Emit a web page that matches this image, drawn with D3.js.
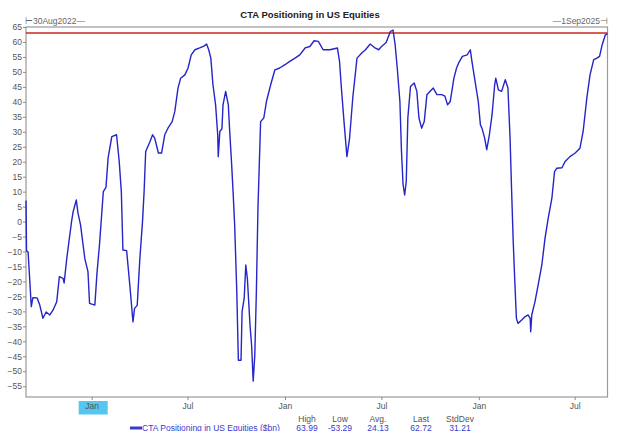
<!DOCTYPE html>
<html>
<head>
<meta charset="utf-8">
<script src="https://cdn.jsdelivr.net/npm/d3@7"></script>
<style>
  body { margin: 0; background: #fff; }
  svg { display: block; font-family: "Liberation Sans", Arial, sans-serif; }
</style>
</head>
<body>
<div id="chart"></div>
<script>
// data
var dates = [
  "2022-08-30","2022-08-31","2022-09-03","2022-09-09","2022-09-12","2022-09-20","2022-09-25","2022-10-01","2022-10-07","2022-10-14",
  "2022-10-20","2022-10-27","2022-11-01","2022-11-08","2022-11-10","2022-11-15","2022-11-24","2022-11-27","2022-12-03","2022-12-06",
  "2022-12-11","2022-12-19","2022-12-25","2022-12-28","2023-01-07","2023-01-11","2023-01-16","2023-01-23","2023-01-28","2023-02-01",
  "2023-02-08","2023-02-17","2023-02-22","2023-02-26","2023-03-01","2023-03-08","2023-03-14","2023-03-20","2023-03-23","2023-03-28",
  "2023-04-02","2023-04-07","2023-04-10","2023-04-13","2023-04-21","2023-04-26","2023-04-30","2023-05-07","2023-05-13","2023-05-19",
  "2023-05-25","2023-06-02","2023-06-07","2023-06-13","2023-06-18","2023-06-26","2023-07-02","2023-07-08","2023-07-15","2023-07-24",
  "2023-08-01","2023-08-06","2023-08-10","2023-08-14","2023-08-18","2023-08-23","2023-08-27","2023-08-28","2023-08-31","2023-09-04",
  "2023-09-06","2023-09-11","2023-09-16","2023-09-19","2023-09-22","2023-09-25","2023-09-28","2023-10-02","2023-10-05","2023-10-10",
  "2023-10-12","2023-10-16","2023-10-19","2023-10-22","2023-10-27","2023-10-30","2023-11-02","2023-11-05","2023-11-08","2023-11-11",
  "2023-11-16","2023-11-22","2023-11-27","2023-12-05","2023-12-13","2023-12-22","2024-01-01","2024-01-10","2024-01-20","2024-01-29",
  "2024-02-08","2024-02-17","2024-02-25","2024-03-04","2024-03-13","2024-03-26","2024-04-09","2024-04-13","2024-04-17","2024-04-22",
  "2024-04-27","2024-05-02","2024-05-08","2024-05-16","2024-05-25","2024-06-01","2024-06-10","2024-06-19","2024-06-26","2024-07-02",
  "2024-07-10","2024-07-18","2024-07-23","2024-07-27","2024-07-31","2024-08-05","2024-08-08","2024-08-11","2024-08-14","2024-08-17",
  "2024-08-20","2024-08-25","2024-09-01","2024-09-06","2024-09-10","2024-09-15","2024-09-20","2024-09-25","2024-10-01","2024-10-07",
  "2024-10-14","2024-10-23","2024-10-29","2024-11-03","2024-11-08","2024-11-15","2024-11-20","2024-11-24","2024-12-01","2024-12-10",
  "2024-12-16","2024-12-19","2024-12-26","2024-12-31","2025-01-04","2025-01-07","2025-01-12","2025-01-16","2025-01-21","2025-01-26",
  "2025-01-31","2025-02-02","2025-02-07","2025-02-13","2025-02-20","2025-02-25","2025-03-01","2025-03-04","2025-03-07","2025-03-10",
  "2025-03-13","2025-03-16","2025-03-23","2025-03-29","2025-04-04","2025-04-08","2025-04-09","2025-04-11","2025-04-17","2025-04-23",
  "2025-04-30","2025-05-06","2025-05-12","2025-05-19","2025-05-24","2025-05-28","2025-06-07","2025-06-13","2025-06-22","2025-07-02",
  "2025-07-11","2025-07-17","2025-07-24","2025-07-30","2025-08-06","2025-08-12","2025-08-17","2025-08-22","2025-08-28","2025-09-01"
];
var values = [
  7, -9.8, -10.2, -28.4, -25.4, -25.5, -27.9, -32.3, -30.2, -31.2,
  -29.6, -26.8, -18.4, -19, -20.5, -12.3, 0, 3.3, 7.2, 3,
  -1.1, -12.3, -16.7, -27.3, -27.9, -17.3, -7.2, 10, 11.4, 21.2,
  28.4, 29, 20.1, 10, -9.5, -9.7, -21.2, -33.5, -29, -28,
  -12.3, 0, 10, 23.4, 26.7, 29, 27.9, 22.9, 22.9, 29,
  31.2, 33.4, 36.8, 44.6, 47.9, 49, 51.3, 55.7, 57.4, 58,
  58.6, 59.3, 57.4, 54.6, 45.7, 39, 29, 21.7, 30.1, 31,
  39, 43.5, 39, 29, 20.1, 10, -1.1, -23.4, -46.3, -46.3,
  -30.1, -25.6, -14.5, -19, -34.6, -41.3, -53.29, -44.6, -23.4, 4.5,
  33.4, 34.6, 40.1, 45.7, 50.7, 51.3, 52.4, 53.5, 54.6, 55.7,
  58, 58.5, 60.4, 60.2, 57.4, 57.4, 58, 53.5, 43.5, 32.3,
  21.7, 27.9, 41.3, 54.6, 56.3, 57.4, 59.3, 58, 57.4, 58.6,
  59.8, 63.5, 63.99, 59.1, 51.3, 40.1, 23.4, 12.3, 8.9, 13.4,
  34.6, 45.1, 46.3, 43.5, 34.6, 31.2, 33.4, 42.4, 43.5, 44.6,
  42.4, 42.4, 41.9, 39, 40.1, 47.9, 51.3, 53, 55.2, 55.7,
  57.4, 53.5, 45.7, 40.1, 32.3, 31.2, 27.9, 24, 29, 35.7,
  45.7, 47.9, 44, 43.5, 47.4, 44.6, 27.9, 10, -6.7, -20.1,
  -32.3, -34, -32.9, -31.8, -31.2, -32.3, -36.8, -31.2, -26.8, -21.2,
  -14.5, -5.6, 1.1, 7.8, 16.7, 17.8, 18, 20.1, 21.7, 22.9,
  24.5, 30.1, 41.3, 49, 54.1, 54.6, 55.2, 59.1, 62.4, 62.72
];
var refLevel = 63;
var yTicks = d3.range(65, -56, -5);
var xTickDates = ["2023-01-01","2023-07-01","2024-01-01","2024-07-01","2025-01-01","2025-07-01"];
var statLabels = ["High", "Low", "Avg.", "Last", "StdDev"];
var statValues = ["63.99", "-53.29", "24.13", "62.72", "31.21"];

var parseDate = d3.timeParse("%Y-%m-%d");
var data = dates.map(function (d, i) { return { date: parseDate(d), value: values[i] }; });

var margin = { left: 26, right: 12.5, top: 27, bottom: 34 };
var fullWidth = 620, fullHeight = 431;
var plotRight = fullWidth - margin.right;
var plotBottom = fullHeight - margin.bottom;
var statX = [307, 340, 378, 421, 460];

var svg = d3.select("#chart").append("svg")
    .attr("width", fullWidth)
    .attr("height", fullHeight);

var x = d3.scaleTime()
    .domain([parseDate("2022-08-30"), parseDate("2025-09-01")])
    .range([margin.left, plotRight]);
var y = d3.scaleLinear()
    .domain([-58.6, 65])
    .range([plotBottom, margin.top]);

// title
svg.append("text")
    .attr("x", 310).attr("y", 17.5)
    .attr("text-anchor", "middle")
    .style("font-size", "9.5px").style("font-weight", "bold").style("fill", "#222")
    .text("CTA Positioning in US Equities");

// range labels
svg.append("text").attr("x", 25).attr("y", 23.5)
    .style("font-size", "8.5px").style("fill", "#666")
    .text("\u22a230Aug2022\u2014");
svg.append("text").attr("x", 608).attr("y", 23.5)
    .attr("text-anchor", "end")
    .style("font-size", "8.5px").style("fill", "#666")
    .text("\u20141Sep2025\u22a3");

// frame
svg.append("rect")
    .attr("x", margin.left).attr("y", margin.top)
    .attr("width", plotRight - margin.left).attr("height", plotBottom - margin.top)
    .style("fill", "none").style("stroke", "#9a9a9a").style("stroke-width", 1.2);

// y axis
var yAxis = svg.append("g")
    .attr("transform", "translate(" + margin.left + ",0)")
    .call(d3.axisLeft(y).tickValues(yTicks).tickSize(3).tickPadding(1).tickFormat(d3.format("d")));
yAxis.select(".domain").remove();
yAxis.selectAll("line").style("stroke", "#8a8a8a");
yAxis.selectAll("text").style("font-size", "8.5px").style("fill", "#555").style("font-family", "Liberation Sans, Arial");

// x axis
var xTicks = xTickDates.map(parseDate);
svg.append("rect")
    .attr("x", x(xTicks[0]) - 13).attr("y", 401)
    .attr("width", 29).attr("height", 13.5)
    .style("fill", "#55c6ee");
var xAxis = svg.append("g")
    .attr("transform", "translate(0," + plotBottom + ")")
    .call(d3.axisBottom(x).tickValues(xTicks).tickSize(3).tickPadding(3).tickFormat(d3.timeFormat("%b")));
xAxis.select(".domain").remove();
xAxis.selectAll("line").style("stroke", "#8a8a8a");
xAxis.selectAll("text").style("font-size", "8.5px").style("fill", "#555").style("font-family", "Liberation Sans, Arial");

// red reference line
svg.append("line")
    .attr("x1", margin.left).attr("x2", plotRight)
    .attr("y1", y(refLevel)).attr("y2", y(refLevel))
    .style("stroke", "#c8281e").style("stroke-width", 1.6);

// series
var line = d3.line()
    .x(function (d) { return x(d.date); })
    .y(function (d) { return y(d.value); });
svg.append("path")
    .datum(data)
    .attr("d", line)
    .style("fill", "none")
    .style("stroke", "#2525c8")
    .style("stroke-width", 1.4)
    .style("stroke-linejoin", "round");

// legend / stats
svg.selectAll(".statLabel")
    .data(statLabels).enter().append("text")
    .attr("class", "statLabel")
    .attr("x", function (d, i) { return statX[i]; })
    .attr("y", 421.5)
    .attr("text-anchor", "middle")
    .style("font-size", "8.5px").style("fill", "#555")
    .text(function (d) { return d; });
svg.selectAll(".statValue")
    .data(statValues).enter().append("text")
    .attr("class", "statValue")
    .attr("x", function (d, i) { return statX[i]; })
    .attr("y", 430.5)
    .attr("text-anchor", "middle")
    .style("font-size", "8.5px").style("fill", "#3a3acf")
    .text(function (d) { return d; });
svg.append("line")
    .attr("x1", 130).attr("x2", 142)
    .attr("y1", 428).attr("y2", 428)
    .style("stroke", "#3a3acf").style("stroke-width", 3);
svg.append("text")
    .attr("x", 142).attr("y", 430.5)
    .style("font-size", "8.5px").style("fill", "#3a3acf")
    .text("CTA Positioning in US Equities ($bn)");
</script>
</body>
</html>
